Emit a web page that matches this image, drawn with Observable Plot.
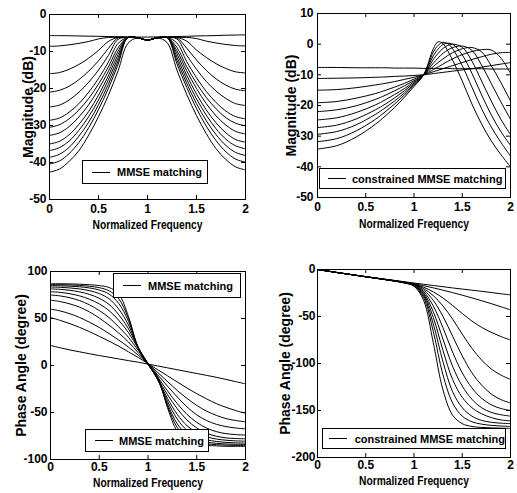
<!DOCTYPE html>
<html><head><meta charset="utf-8">
<script src="https://cdn.jsdelivr.net/npm/d3@7"></script>
<script src="https://cdn.jsdelivr.net/npm/@observablehq/plot@0.6"></script>
<style>
body{margin:0;background:#fff;}
#fig{position:relative;width:517px;height:493px;overflow:hidden;font-family:"Liberation Sans",Arial,sans-serif;background:#fff;}
.panel{position:absolute;}
.legend{position:absolute;box-sizing:border-box;border:1px solid #000;background:#fff;display:flex;align-items:center;font-weight:bold;font-size:11px;color:#000;white-space:nowrap;}
.legend .s{display:inline-block;width:18px;height:0;border-top:1px solid #000;}
</style></head><body><div id="fig"></div>
<script>
// ---------- shared ----------
const freq = [0,0.1,0.2,0.3,0.4,0.5,0.6,0.7,0.8,0.9,1,1.1,1.2,1.3,1.4,1.5,1.6,1.7,1.8,1.9,2];
const freqB = [0,0.2,0.4,0.6,0.7,0.8,0.9,1.0,1.1,1.2,1.25,1.3,1.35,1.4,1.5,1.6,1.7,1.8,1.9,2.0];
const xTicks = [0,0.5,1,1.5,2];
const xLabel = "Normalized Frequency";
const legendMMSE = "MMSE matching";
const legendCMMSE = "constrained MMSE matching";

// ---------- panel 1 : magnitude, MMSE ----------
const mag1Ticks = [0,-10,-20,-30,-40,-50];
const mag1Label = "Magnitude (dB)";
const m1flat = [-5.7,-5.72,-5.75,-5.8,-5.85,-5.9,-5.95,-6,-6.05,-6.1,-6.1,-6.05,-6,-5.95,-5.9,-5.8,-5.75,-5.7,-5.6,-5.55,-5.5];
const m1c1 = [-8.6,-8.5,-8.2,-7.8,-7.3,-6.6,-6.2,-6.2,-6.2,-6.3,-6.9,-6.3,-6.2,-6.2,-6.2,-6.5,-7.2,-7.7,-8.1,-8.4,-8.5];
const m1c2 = [-16,-15.7,-14.8,-13.5,-11.8,-9.7,-7.3,-6.2,-6.2,-6.3,-6.9,-6.3,-6.2,-6.2,-7.2,-9.6,-11.6,-13.3,-14.6,-15.5,-15.8];
const m1c3 = [-21,-20.5,-19.4,-17.6,-15.3,-12.5,-9.2,-6.3,-6.2,-6.3,-6.9,-6.3,-6.2,-6.3,-9.1,-12.3,-15.1,-17.4,-19.1,-20.2,-20.6];
const m1c4 = [-25,-24.5,-23.1,-21,-18.3,-15,-11.1,-6.7,-6.2,-6.3,-6.9,-6.3,-6.2,-6.6,-11,-14.8,-18.1,-20.7,-22.7,-24.1,-24.6];
const m1c5 = [-28.6,-28,-26.4,-24.1,-21,-17.3,-12.9,-7.8,-6.2,-6.3,-6.9,-6.3,-6.2,-7.7,-12.7,-17.1,-20.8,-23.8,-26.1,-27.6,-28.2];
const m1c6 = [-30.5,-29.8,-28.2,-25.8,-22.7,-18.8,-14.2,-9,-6.2,-6.3,-6.9,-6.3,-6.2,-8.9,-14.1,-18.6,-22.4,-25.5,-27.9,-29.4,-30.1];
const m1c7 = [-32.7,-32,-30.3,-27.7,-24.4,-20.2,-15.4,-9.9,-6.2,-6.3,-6.9,-6.3,-6.2,-9.8,-15.2,-20,-24.1,-27.4,-29.9,-31.6,-32.3];
const m1c8 = [-35,-34.3,-32.5,-29.7,-26.2,-21.8,-16.6,-10.8,-6.2,-6.3,-6.9,-6.3,-6.2,-10.6,-16.4,-21.5,-25.8,-29.3,-32,-33.8,-34.5];
const m1c9 = [-36.8,-36,-34.2,-31.3,-27.6,-23.1,-17.7,-11.7,-6.2,-6.3,-6.9,-6.3,-6.2,-11.5,-17.5,-22.8,-27.2,-30.9,-33.7,-35.5,-36.3];
const m1c10 = [-38.6,-37.8,-35.9,-32.9,-29.1,-24.4,-18.9,-12.6,-6.2,-6.3,-6.9,-6.3,-6.2,-12.4,-18.6,-24.1,-28.7,-32.5,-35.4,-37.3,-38.1];
const m1c11 = [-40.4,-39.6,-37.6,-34.6,-30.6,-25.7,-20,-13.5,-6.2,-6.3,-6.9,-6.3,-6.2,-13.3,-19.7,-25.4,-30.2,-34.1,-37.1,-39.1,-39.9];
const m1c12 = [-42.6,-41.8,-39.7,-36.8,-32.6,-27.6,-21.9,-15.2,-7.8,-6.3,-6.9,-6.3,-7.6,-15,-21.6,-27.3,-32.2,-36.3,-39.2,-41.2,-42];

// ---------- panel 2 : magnitude, constrained MMSE ----------
const mag2Ticks = [10,0,-10,-20,-30,-40,-50];
const m2c1 = [-7.6,-7.6,-7.7,-7.7,-7.7,-7.8,-7.8,-7.8,-7.9,-7.9,-7.9,-7.9,-7.9,-8,-8,-8,-8,-8.1,-8.1,-8.1];
const m2c2 = [-11.2,-11.1,-11,-10.8,-10.7,-10.5,-10.4,-10.2,-10,-9.6,-9.4,-9.2,-9,-8.8,-8.4,-8,-7.5,-7,-6.5,-6];
const m2c3 = [-15,-14.8,-14.2,-13.3,-12.8,-12.2,-11.5,-10.8,-10,-9,-8.5,-8,-7.5,-7,-6,-5,-4.1,-3.3,-2.8,-2.7];
const m2c4 = [-19.1,-18.7,-17.6,-16.1,-15.1,-14,-12.8,-11.4,-10,-8.3,-7.4,-6.5,-5.6,-4.8,-3.4,-2.4,-1.8,-1.9,-4.5,-9.5];
const m2c5 = [-22,-21.4,-20.1,-18,-16.7,-15.2,-13.6,-11.9,-10,-7.3,-6,-4.8,-3.7,-2.8,-1.5,-1.1,-2.5,-7,-12.5,-18.5];
const m2c6 = [-24.7,-24,-22.3,-19.8,-18.2,-16.4,-14.5,-12.3,-10,-6.2,-4.5,-3,-1.9,-1.1,-0.6,-2,-6.8,-12.8,-18.8,-24.5];
const m2c7 = [-27.2,-26.4,-24.4,-21.4,-19.6,-17.5,-15.2,-12.7,-10,-5,-3,-1.4,-0.4,0,-1,-5.5,-12,-18.5,-24.5,-29.5];
const m2c8 = [-29.4,-28.5,-26.3,-22.9,-20.8,-18.5,-15.9,-13.1,-10,-3.8,-1.6,-0.1,0.3,0,-3.5,-9.5,-16.5,-23,-28.5,-33];
const m2c9 = [-31.8,-30.8,-28.3,-24.5,-22.1,-19.5,-16.6,-13.4,-10,-2.6,-0.4,0.6,0.2,-1.5,-7,-14,-21,-27,-32,-36.5];
const m2c10 = [-34.2,-33.1,-30.3,-26.1,-23.5,-20.6,-17.3,-13.8,-10,-1.5,0.8,0.2,-2.2,-5.2,-12,-19.5,-26,-31.5,-36,-40];

// ---------- panel 3 : phase, MMSE ----------
const ph1Ticks = [100,50,0,-50,-100];
const phLabel = "Phase Angle (degree)";
const p3c1 = [21.3,18.8,16.5,14.5,12.5,10.6,8.8,7,5.2,3.5,1.5,-0.5,-2.5,-4.5,-6.5,-8.5,-10.5,-12.5,-14.8,-17.2,-19.5];
const p3c2 = [51,48,44.5,40.5,36,31,26,20.5,14.5,8.5,2,-4.5,-11,-17.5,-24,-30,-35.5,-40.5,-44.5,-48,-50.7];
const p3c3 = [60,58,55,51,46,40.5,34,27,19.5,11,2,-7.5,-17,-26.5,-35,-42.5,-48.5,-53,-56.5,-58.5,-60];
const p3c4 = [69.5,68,65.5,62,57,50.5,43,34.5,25,13.5,2,-10,-22,-33.5,-44,-52.5,-58.5,-62.5,-65,-66.5,-67.4];
const p3c5 = [75,74,72,69,64.5,58.5,51,41,30,16,2,-12.5,-27,-40.5,-52,-60.5,-66.5,-70.3,-72.5,-73.5,-74];
const p3c6 = [78.5,77.8,76.3,74,70.5,65.5,58.5,48,35,18,2,-14,-31,-46,-58,-66.5,-72,-75.2,-77,-77.7,-78];
const p3c7 = [81.5,81,80,78.3,75.6,71.5,65,54,39,19,2,-15,-35,-52,-64,-71.5,-75.8,-78.2,-79.5,-80.2,-80.5];
const p3c8 = [83.5,83.2,82.5,81.4,79.6,76.5,71,60,43,19,2,-15,-38,-57,-69,-75.5,-79,-80.8,-81.8,-82.3,-82.5];
const p3c9 = [85,84.8,84.4,83.7,82.5,80.3,76,66,47,19,1.5,-15,-41,-62,-73.5,-79,-81.5,-82.8,-83.5,-83.8,-84];
const p3c10 = [86,86,85.7,85.2,84.3,82.8,79.5,71,50,19,1,-14,-43,-66,-77,-81.5,-83.3,-84.2,-84.7,-85,-85];
const p3c11 = [87,87,86.8,86.5,86,85,83,76,52,18,1,-12,-45,-70,-80,-83.5,-85,-85.5,-86,-86,-86];

// ---------- panel 4 : phase, constrained MMSE ----------
const ph2Ticks = [0,-50,-100,-150,-200];
const p4c1 = [0,-1.6,-3.1,-4.6,-6.1,-7.5,-8.9,-10.3,-11.6,-13,-14.4,-15.7,-17,-18.3,-19.6,-20.8,-22,-23.2,-24.5,-25.8,-27];
const p4c2 = [0,-1.6,-3.2,-4.7,-6.2,-7.7,-9.1,-10.5,-11.9,-13.4,-15,-17.2,-19.5,-22,-24.6,-27.3,-30.2,-33.2,-36.3,-39.6,-43];
const p4c3 = [0,-1.6,-3.2,-4.7,-6.2,-7.7,-9.1,-10.5,-12,-13.5,-15.3,-18.8,-23.8,-30.3,-38.3,-46.8,-54.8,-61.5,-66.8,-71.3,-75];
const p4c4 = [0,-1.6,-3.2,-4.7,-6.2,-7.7,-9.1,-10.6,-12,-13.6,-15.6,-20.3,-27.8,-38.8,-52.8,-68.8,-83.8,-96.3,-105.8,-112.3,-117];
const p4c5 = [0,-1.6,-3.2,-4.7,-6.2,-7.7,-9.2,-10.6,-12.1,-13.7,-15.9,-21.9,-32.9,-49.9,-70.9,-91.9,-109.9,-122.9,-132.4,-138.4,-142];
const p4c6 = [0,-1.6,-3.2,-4.7,-6.2,-7.7,-9.2,-10.6,-12.1,-13.8,-16.2,-23.4,-38.9,-61.9,-87.9,-109.9,-125.9,-136.9,-143.9,-147.9,-150];
const p4c7 = [0,-1.6,-3.2,-4.7,-6.2,-7.7,-9.2,-10.7,-12.2,-13.9,-16.5,-25,-45,-74,-103,-124,-138,-147,-152,-154.5,-156];
const p4c8 = [0,-1.6,-3.2,-4.7,-6.2,-7.7,-9.2,-10.7,-12.2,-14,-16.8,-26.5,-51,-86,-117,-136,-147,-153.5,-157.5,-160,-161];
const p4c9 = [0,-1.6,-3.2,-4.7,-6.2,-7.7,-9.2,-10.7,-12.3,-14.1,-17.1,-28,-58,-98,-130,-147,-156,-160.5,-162.5,-163.5,-164];
const p4c10 = [0,-1.6,-3.2,-4.7,-6.2,-7.7,-9.2,-10.7,-12.3,-14.2,-17.4,-30,-66,-112,-142,-156,-162,-164.5,-165.8,-166.5,-167];
const p4c11 = [0,-1.6,-3.2,-4.7,-6.2,-7.7,-9.2,-10.8,-12.4,-14.3,-17.8,-33,-78,-128,-155,-164,-167,-168,-168.5,-168.8,-169];

// ---------- build ----------
function rows(xs, curves) {
  return curves.flatMap((ys, k) => ys.map((y, i) => ({x: xs[i], y, k})));
}
const FONT = '"Liberation Sans", Arial, sans-serif';

function panel(o) {
  const fw = o.w - o.ml - o.mr, fh = o.h - o.mt - o.mb;
  const svg = Plot.plot({
    width: o.w, height: o.h,
    marginLeft: o.ml, marginRight: o.mr, marginTop: o.mt, marginBottom: o.mb,
    style: {fontFamily: FONT, fontSize: "12px", fontWeight: "bold", background: "white", color: "black", overflow: "visible"},
    x: {domain: [0, 2]},
    y: {domain: o.yDomain},
    marks: [
      Plot.line(o.data, {x: "x", y: "y", z: "k", stroke: "black", strokeWidth: 1, curve: "catmull-rom", clip: true}),
      Plot.tickX(xTicks, {x: d => d, insetTop: fh - 4, stroke: "black"}),
      Plot.tickX(xTicks, {x: d => d, insetBottom: fh - 4, stroke: "black"}),
      Plot.tickY(o.yTicks, {y: d => d, insetRight: fw - 4, stroke: "black"}),
      Plot.tickY(o.yTicks, {y: d => d, insetLeft: fw - 4, stroke: "black"}),
      Plot.axisX({ticks: xTicks, tickSize: 0, tickPadding: o.xPad, tickFormat: d => String(d), label: null}),
      Plot.axisY({ticks: o.yTicks, tickSize: 0, tickPadding: o.yPad, tickFormat: d => String(d), label: null}),
      Plot.text([xLabel], {text: d => d, frameAnchor: "bottom", textAnchor: "middle", lineAnchor: "bottom", dy: o.xdy, fontSize: 12, fontWeight: "bold"}),
      Plot.text([o.yLabel], {text: d => d, frameAnchor: "left", textAnchor: "middle", lineAnchor: "middle", rotate: -90, dx: o.ydx, fontSize: 14, fontWeight: "bold"}),
      Plot.frame({stroke: "black", strokeWidth: 1})
    ]
  });
  svg.querySelectorAll("text").forEach(t => {
    if (t.textContent === xLabel) { t.setAttribute("textLength", 110); t.setAttribute("lengthAdjust", "spacingAndGlyphs"); }
  });
  const div = document.createElement("div");
  div.className = "panel";
  div.style.left = o.left + "px";
  div.style.top = o.top + "px";
  div.appendChild(svg);
  return div;
}

const fig = document.getElementById("fig");
fig.appendChild(panel({left: 0, top: 0, w: 258, h: 240, ml: 49, mr: 13, mt: 14, mb: 41,
  yDomain: [-50, 0], yTicks: mag1Ticks, yLabel: mag1Label, yPad: 3, xPad: 5, xdy: 29, ydx: -21,
  data: rows(freq, [m1flat, m1c1, m1c2, m1c3, m1c4, m1c5, m1c6, m1c7, m1c8, m1c9, m1c10, m1c11, m1c12])}));
fig.appendChild(panel({left: 258, top: 0, w: 259, h: 240, ml: 59, mr: 7, mt: 13, mb: 43,
  yDomain: [-50, 10], yTicks: mag2Ticks, yLabel: mag1Label, yPad: 4, xPad: 5, xdy: 30, ydx: -26,
  data: rows(freqB, [m2c1, m2c2, m2c3, m2c4, m2c5, m2c6, m2c7, m2c8, m2c9, m2c10])}));
fig.appendChild(panel({left: 0, top: 245, w: 258, h: 248, ml: 50, mr: 13, mt: 26, mb: 34,
  yDomain: [-100, 100], yTicks: ph1Ticks, yLabel: phLabel, yPad: 3, xPad: 3, xdy: 27, ydx: -29,
  data: rows(freq, [p3c1, p3c2, p3c3, p3c4, p3c5, p3c6, p3c7, p3c8, p3c9, p3c10, p3c11])}));
fig.appendChild(panel({left: 258, top: 245, w: 259, h: 248, ml: 59, mr: 7, mt: 24, mb: 36,
  yDomain: [-200, 0], yTicks: ph2Ticks, yLabel: phLabel, yPad: 2, xPad: 3, xdy: 27, ydx: -32,
  data: rows(freq, [p4c1, p4c2, p4c3, p4c4, p4c5, p4c6, p4c7, p4c8, p4c9, p4c10, p4c11])}));

// ---------- legends ----------
function legend(text, left, top, w, h, padL, gap) {
  const d = document.createElement("div");
  d.className = "legend";
  Object.assign(d.style, {left: left + "px", top: top + "px", width: w + "px", height: h + "px", paddingLeft: padL + "px"});
  const s = document.createElement("span"); s.className = "s"; s.style.marginRight = gap + "px";
  const t = document.createElement("span"); t.textContent = text;
  d.appendChild(s); d.appendChild(t);
  fig.appendChild(d);
}
legend(legendMMSE, 82, 160, 126, 24, 9, 7);
legend(legendCMMSE, 319, 168, 187, 21, 8, 6);
legend(legendMMSE, 113, 273, 128, 25, 9, 7);
legend(legendMMSE, 85, 429, 124, 23, 9, 6);
legend(legendCMMSE, 322, 428, 184, 21, 6, 8);
</script></body></html>
